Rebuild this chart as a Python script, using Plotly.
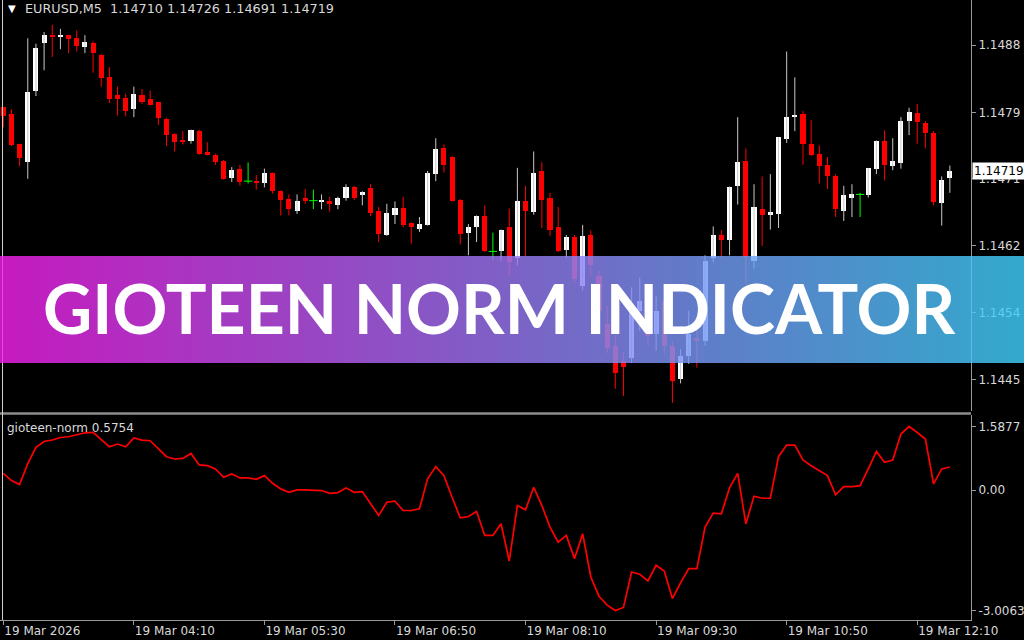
import plotly.graph_objects as go

# EURUSD M5 candles, 19 Mar 2026
opens = [1.14801, 1.14792, 1.14754, 1.14731, 1.14822, 1.14883, 1.14893, 1.14890, 1.14893, 1.14889,
         1.14878, 1.14883, 1.14868, 1.14840, 1.14816, 1.14813, 1.14798, 1.14816, 1.14811, 1.14807,
         1.14785, 1.14766, 1.14759, 1.14757, 1.14770, 1.14743, 1.14740, 1.14732, 1.14710, 1.14721,
         1.14706, 1.14706, 1.14704, 1.14717, 1.14693, 1.14683, 1.14668, 1.14685, 1.14681, 1.14679,
         1.14681, 1.14676, 1.14684, 1.14699, 1.14688, 1.14697, 1.14668, 1.14637, 1.14663, 1.14672,
         1.14653, 1.14645, 1.14650, 1.14715, 1.14748, 1.14737, 1.14682, 1.14639, 1.14647, 1.14661,
         1.14616, 1.14616, 1.14647, 1.14607, 1.14681, 1.14667, 1.14719, 1.14685, 1.14647, 1.14618,
         1.14634, 1.14572, 1.14637, 1.14585, 1.14523, 1.14495, 1.14476, 1.14480, 1.14540, 1.14537,
         1.14510, 1.14553, 1.14495, 1.14453, 1.14482, 1.14505, 1.14501, 1.14608, 1.14637, 1.14631,
         1.14700, 1.14732, 1.14604, 1.14670, 1.14663, 1.14664, 1.14760, 1.14788, 1.14792, 1.14753,
         1.14741, 1.14727, 1.14712, 1.14668, 1.14685, 1.14689, 1.14688, 1.14721, 1.14757, 1.14725,
         1.14729, 1.14783, 1.14793, 1.14780, 1.14768, 1.14678, 1.14710]
highs = [1.14801, 1.14798, 1.14754, 1.14889, 1.14882, 1.14897, 1.14906, 1.14901, 1.14893, 1.14899,
         1.14893, 1.14885, 1.14869, 1.14852, 1.14827, 1.14818, 1.14827, 1.14824, 1.14822, 1.14807,
         1.14787, 1.14767, 1.14770, 1.14772, 1.14772, 1.14756, 1.14741, 1.14733, 1.14724, 1.14727,
         1.14730, 1.14714, 1.14722, 1.14717, 1.14694, 1.14689, 1.14689, 1.14696, 1.14695, 1.14689,
         1.14686, 1.14686, 1.14702, 1.14700, 1.14693, 1.14702, 1.14673, 1.14677, 1.14680, 1.14686,
         1.14653, 1.14660, 1.14719, 1.14761, 1.14753, 1.14738, 1.14683, 1.14651, 1.14662, 1.14675,
         1.14640, 1.14644, 1.14671, 1.14723, 1.14700, 1.14744, 1.14730, 1.14691, 1.14673, 1.14637,
         1.14637, 1.14650, 1.14643, 1.14591, 1.14546, 1.14508, 1.14486, 1.14570, 1.14582, 1.14553,
         1.14559, 1.14576, 1.14501, 1.14491, 1.14540, 1.14527, 1.14611, 1.14648, 1.14643, 1.14699,
         1.14788, 1.14748, 1.14702, 1.14712, 1.14715, 1.14762, 1.14872, 1.14839, 1.14796, 1.14784,
         1.14752, 1.14737, 1.14715, 1.14700, 1.14702, 1.14691, 1.14723, 1.14758, 1.14771, 1.14761,
         1.14788, 1.14800, 1.14805, 1.14783, 1.14770, 1.14712, 1.14726]
lows = [1.14775, 1.14751, 1.14725, 1.14709, 1.14815, 1.14848, 1.14865, 1.14875, 1.14870, 1.14872,
        1.14870, 1.14845, 1.14827, 1.14806, 1.14790, 1.14789, 1.14788, 1.14805, 1.14803, 1.14778,
        1.14751, 1.14744, 1.14753, 1.14754, 1.14740, 1.14739, 1.14727, 1.14708, 1.14705, 1.14700,
        1.14703, 1.14695, 1.14698, 1.14690, 1.14662, 1.14662, 1.14664, 1.14677, 1.14670, 1.14670,
        1.14667, 1.14670, 1.14681, 1.14682, 1.14675, 1.14661, 1.14628, 1.14636, 1.14651, 1.14647,
        1.14626, 1.14641, 1.14649, 1.14706, 1.14717, 1.14680, 1.14625, 1.14611, 1.14628, 1.14615,
        1.14605, 1.14604, 1.14585, 1.14598, 1.14609, 1.14663, 1.14646, 1.14636, 1.14615, 1.14608,
        1.14576, 1.14566, 1.14585, 1.14530, 1.14486, 1.14440, 1.14431, 1.14473, 1.14514, 1.14495,
        1.14489, 1.14485, 1.14422, 1.14447, 1.14472, 1.14467, 1.14495, 1.14602, 1.14608, 1.14611,
        1.14676, 1.14575, 1.14594, 1.14623, 1.14644, 1.14646, 1.14755, 1.14770, 1.14727, 1.14738,
        1.14703, 1.14696, 1.14660, 1.14655, 1.14660, 1.14660, 1.14685, 1.14715, 1.14707, 1.14720,
        1.14722, 1.14765, 1.14754, 1.14748, 1.14675, 1.14649, 1.14691]
closes = [1.14789, 1.14752, 1.14736, 1.14820, 1.14876, 1.14893, 1.14891, 1.14893, 1.14888, 1.14879,
          1.14884, 1.14870, 1.14838, 1.14811, 1.14811, 1.14796, 1.14817, 1.14807, 1.14804, 1.14787,
          1.14765, 1.14756, 1.14756, 1.14771, 1.14741, 1.14740, 1.14730, 1.14709, 1.14720, 1.14705,
          1.14706, 1.14703, 1.14716, 1.14693, 1.14682, 1.14670, 1.14681, 1.14681, 1.14681, 1.14682,
          1.14677, 1.14685, 1.14698, 1.14685, 1.14692, 1.14665, 1.14638, 1.14665, 1.14672, 1.14650,
          1.14647, 1.14651, 1.14717, 1.14747, 1.14727, 1.14681, 1.14638, 1.14647, 1.14661, 1.14616,
          1.14616, 1.14644, 1.14602, 1.14680, 1.14668, 1.14717, 1.14682, 1.14643, 1.14617, 1.14635,
          1.14581, 1.14636, 1.14598, 1.14540, 1.14492, 1.14460, 1.14468, 1.14544, 1.14553, 1.14508,
          1.14540, 1.14495, 1.14450, 1.14482, 1.14510, 1.14501, 1.14604, 1.14637, 1.14631, 1.14698,
          1.14730, 1.14609, 1.14673, 1.14663, 1.14667, 1.14762, 1.14788, 1.14791, 1.14753, 1.14739,
          1.14726, 1.14712, 1.14670, 1.14688, 1.14689, 1.14689, 1.14723, 1.14757, 1.14727, 1.14732,
          1.14783, 1.14795, 1.14782, 1.14768, 1.14679, 1.14708, 1.14719]

# gioteen-norm indicator, one value per bar
norm = [0.418, 0.236, 0.137, 0.659, 1.065, 1.214, 1.249, 1.313, 1.331, 1.373,
        1.430, 1.438, 1.249, 1.082, 1.149, 1.082, 1.299, 1.249, 1.231, 1.025,
        0.833, 0.776, 0.791, 0.915, 0.627, 0.609, 0.527, 0.318, 0.403, 0.303,
        0.303, 0.269, 0.361, 0.169, 0.030, -0.055, 0.005, 0.005, -0.012, -0.012,
        -0.080, -0.062, 0.055, -0.055, -0.037, -0.328, -0.634, -0.303, -0.279, -0.510,
        -0.510, -0.468, 0.279, 0.585, 0.361, -0.179, -0.692, -0.659, -0.535, -1.132,
        -1.132, -0.841, -1.771, -0.386, -0.493, 0.070, -0.386, -0.925, -1.299, -1.132,
        -1.711, -1.090, -2.169, -2.649, -2.873, -3.0063, -2.930, -2.045, -2.102, -2.269,
        -1.878, -2.020, -2.706, -2.318, -1.960, -1.960, -0.925, -0.577, -0.592, 0.055,
        0.418, -0.841, -0.154, -0.204, -0.204, 0.833, 1.124, 1.124, 0.751, 0.609,
        0.485, 0.361, -0.119, 0.087, 0.087, 0.112, 0.527, 0.965, 0.692, 0.751,
        1.398, 1.5877, 1.438, 1.274, 0.154, 0.527, 0.5754]

time_tick_pos = [0, 16, 32, 48, 64, 80, 96, 112]
time_tick_labels = ["19 Mar 2026", "19 Mar 04:10", "19 Mar 05:30", "19 Mar 06:50",
                    "19 Mar 08:10", "19 Mar 09:30", "19 Mar 10:50", "19 Mar 12:10"]
price_ticks = [1.14880, 1.14794, 1.14709, 1.14623, 1.14538, 1.14452]
price_tick_labels = ["1.1488", "1.1479", "1.1471", "1.1462", "1.1454", "1.1445"]
norm_ticks = [1.5877, 0.0, -3.0063]
norm_tick_labels = ["1.5877", "0.00", "-3.0063"]

W, H = 1024, 640
PLOT_R = 971 / W
FONT = "DejaVu Sans"
TXT = "#d8d8d8"
AXC = "#9a9a9a"

idx = list(range(len(opens)))
bull = [i for i in idx if closes[i] > opens[i]]
bear = [i for i in idx if closes[i] < opens[i]]
doji = [i for i in idx if closes[i] == opens[i]]


def wicks(ids):
    xs, ys = [], []
    for i in ids:
        xs += [i, i, None]
        ys += [lows[i], highs[i], None]
    return xs, ys


fig = go.Figure()
for ids, col in [(bull, "#c8c8c8"), (bear, "#ff0000"), (doji, "#00ff00")]:
    wx, wy = wicks(ids)
    fig.add_trace(go.Scatter(x=wx, y=wy, mode="lines", line=dict(color=col, width=1),
                             hoverinfo="skip"))

fig.add_trace(go.Bar(x=bull, base=[opens[i] for i in bull],
                     y=[closes[i] - opens[i] for i in bull], width=0.62,
                     marker=dict(color="#ffffff", line=dict(width=0))))
fig.add_trace(go.Bar(x=bear, base=[closes[i] for i in bear],
                     y=[opens[i] - closes[i] for i in bear], width=0.62,
                     marker=dict(color="#ff0000", line=dict(width=0))))
fig.add_trace(go.Scatter(x=doji, y=[closes[i] for i in doji], mode="markers",
                         marker=dict(symbol="line-ew", size=6, line=dict(color="#00ff00", width=1))))

fig.add_trace(go.Scatter(x=idx, y=norm, mode="lines", line=dict(color="#ff0000", width=1.7),
                         xaxis="x2", yaxis="y2"))

xr = [-0.404, 118.59]
fig.update_layout(
    width=W, height=H, margin=dict(l=0, r=0, t=0, b=0, autoexpand=False),
    paper_bgcolor="#000000", plot_bgcolor="#000000",
    showlegend=False, barmode="overlay", bargap=0,
    font=dict(family=FONT, size=12, color=TXT),
    xaxis=dict(domain=[0, PLOT_R], range=xr, showticklabels=False, showgrid=False,
               zeroline=False, anchor="y", automargin=False),
    yaxis=dict(domain=[(H - 411) / H, 1], range=[1.144116, 1.14938], side="right",
               tickvals=price_ticks, ticktext=price_tick_labels, ticks="outside",
               ticklen=4, tickcolor=AXC, showline=True, linecolor=AXC, linewidth=1,
               showgrid=False, zeroline=False, anchor="x", automargin=False),
    xaxis2=dict(domain=[0, PLOT_R], range=xr, anchor="y2", matches="x",
                tickvals=time_tick_pos, ticktext=time_tick_labels, ticks="outside",
                ticklen=4, tickcolor=AXC, ticklabelposition="outside right",
                showline=True, linecolor=AXC, linewidth=1, showgrid=False, zeroline=False,
                automargin=False),
    yaxis2=dict(domain=[(H - 620) / H, (H - 415) / H], range=[-3.243, 1.874], side="right",
                tickvals=norm_ticks, ticktext=norm_tick_labels, ticks="outside",
                ticklen=4, tickcolor=AXC, showline=True, linecolor=AXC, linewidth=1,
                showgrid=False, zeroline=False, anchor="x2", automargin=False),
)

shapes = [
    # panel separator and left border
    dict(type="line", xref="paper", yref="paper", x0=0, x1=PLOT_R,
         y0=(H - 413.5) / H, y1=(H - 413.5) / H, line=dict(color="#8c8c8c", width=2.5)),
    dict(type="line", xref="paper", yref="paper", x0=2.5 / W, x1=2.5 / W,
         y0=(H - 620) / H, y1=1, line=dict(color="#d0d0d0", width=1), layer="above"),
]

# banner gradient, magenta -> cyan
c0, c1 = (240, 33, 233), (63, 206, 250)
n = 128
for k in range(n):
    t = k / (n - 1)
    col = "rgb(%d,%d,%d)" % tuple(round(a + (b - a) * t) for a, b in zip(c0, c1))
    shapes.append(dict(type="rect", xref="paper", yref="paper",
                       x0=k * 8 / W, x1=(k + 1) * 8 / W,
                       y0=(H - 363) / H, y1=(H - 256) / H,
                       fillcolor=col, line=dict(width=0), opacity=0.82, layer="above"))
fig.update_layout(shapes=shapes)

fig.add_annotation(text="GIOTEEN NORM INDICATOR", xref="paper", yref="paper",
                   x=499 / W, y=(H - 307) / H, xanchor="center", yanchor="middle",
                   showarrow=False, font=dict(family="Lato", size=68, color="#ffffff", weight="bold"))
fig.add_annotation(text="\u25bc", xref="paper", yref="paper", x=6 / W, y=(H - 9) / H,
                   xanchor="left", yanchor="middle", showarrow=False,
                   font=dict(size=10, color="#ffffff"))
fig.add_annotation(text="EURUSD,M5  %.5f %.5f %.5f %.5f" % (opens[-1], highs[-1], lows[-1], closes[-1]),
                   xref="paper", yref="paper", x=23 / W, y=(H - 9) / H,
                   xanchor="left", yanchor="middle", showarrow=False, font=dict(size=12.8))
fig.add_annotation(text="gioteen-norm %.4f" % norm[-1], xref="paper", yref="paper",
                   x=5 / W, y=(H - 428) / H, xanchor="left", yanchor="middle", showarrow=False)
fig.add_annotation(text="%.5f" % closes[-1], xref="paper", yref="y",
                   x=972 / W, y=closes[-1], xanchor="left", yanchor="middle", showarrow=False,
                   bgcolor="#ffffff", borderpad=1, font=dict(color="#000000", size=12))

fig.write_html("out.html", config={"displayModeBar": False},
               post_script="document.body.style.margin='0';")
